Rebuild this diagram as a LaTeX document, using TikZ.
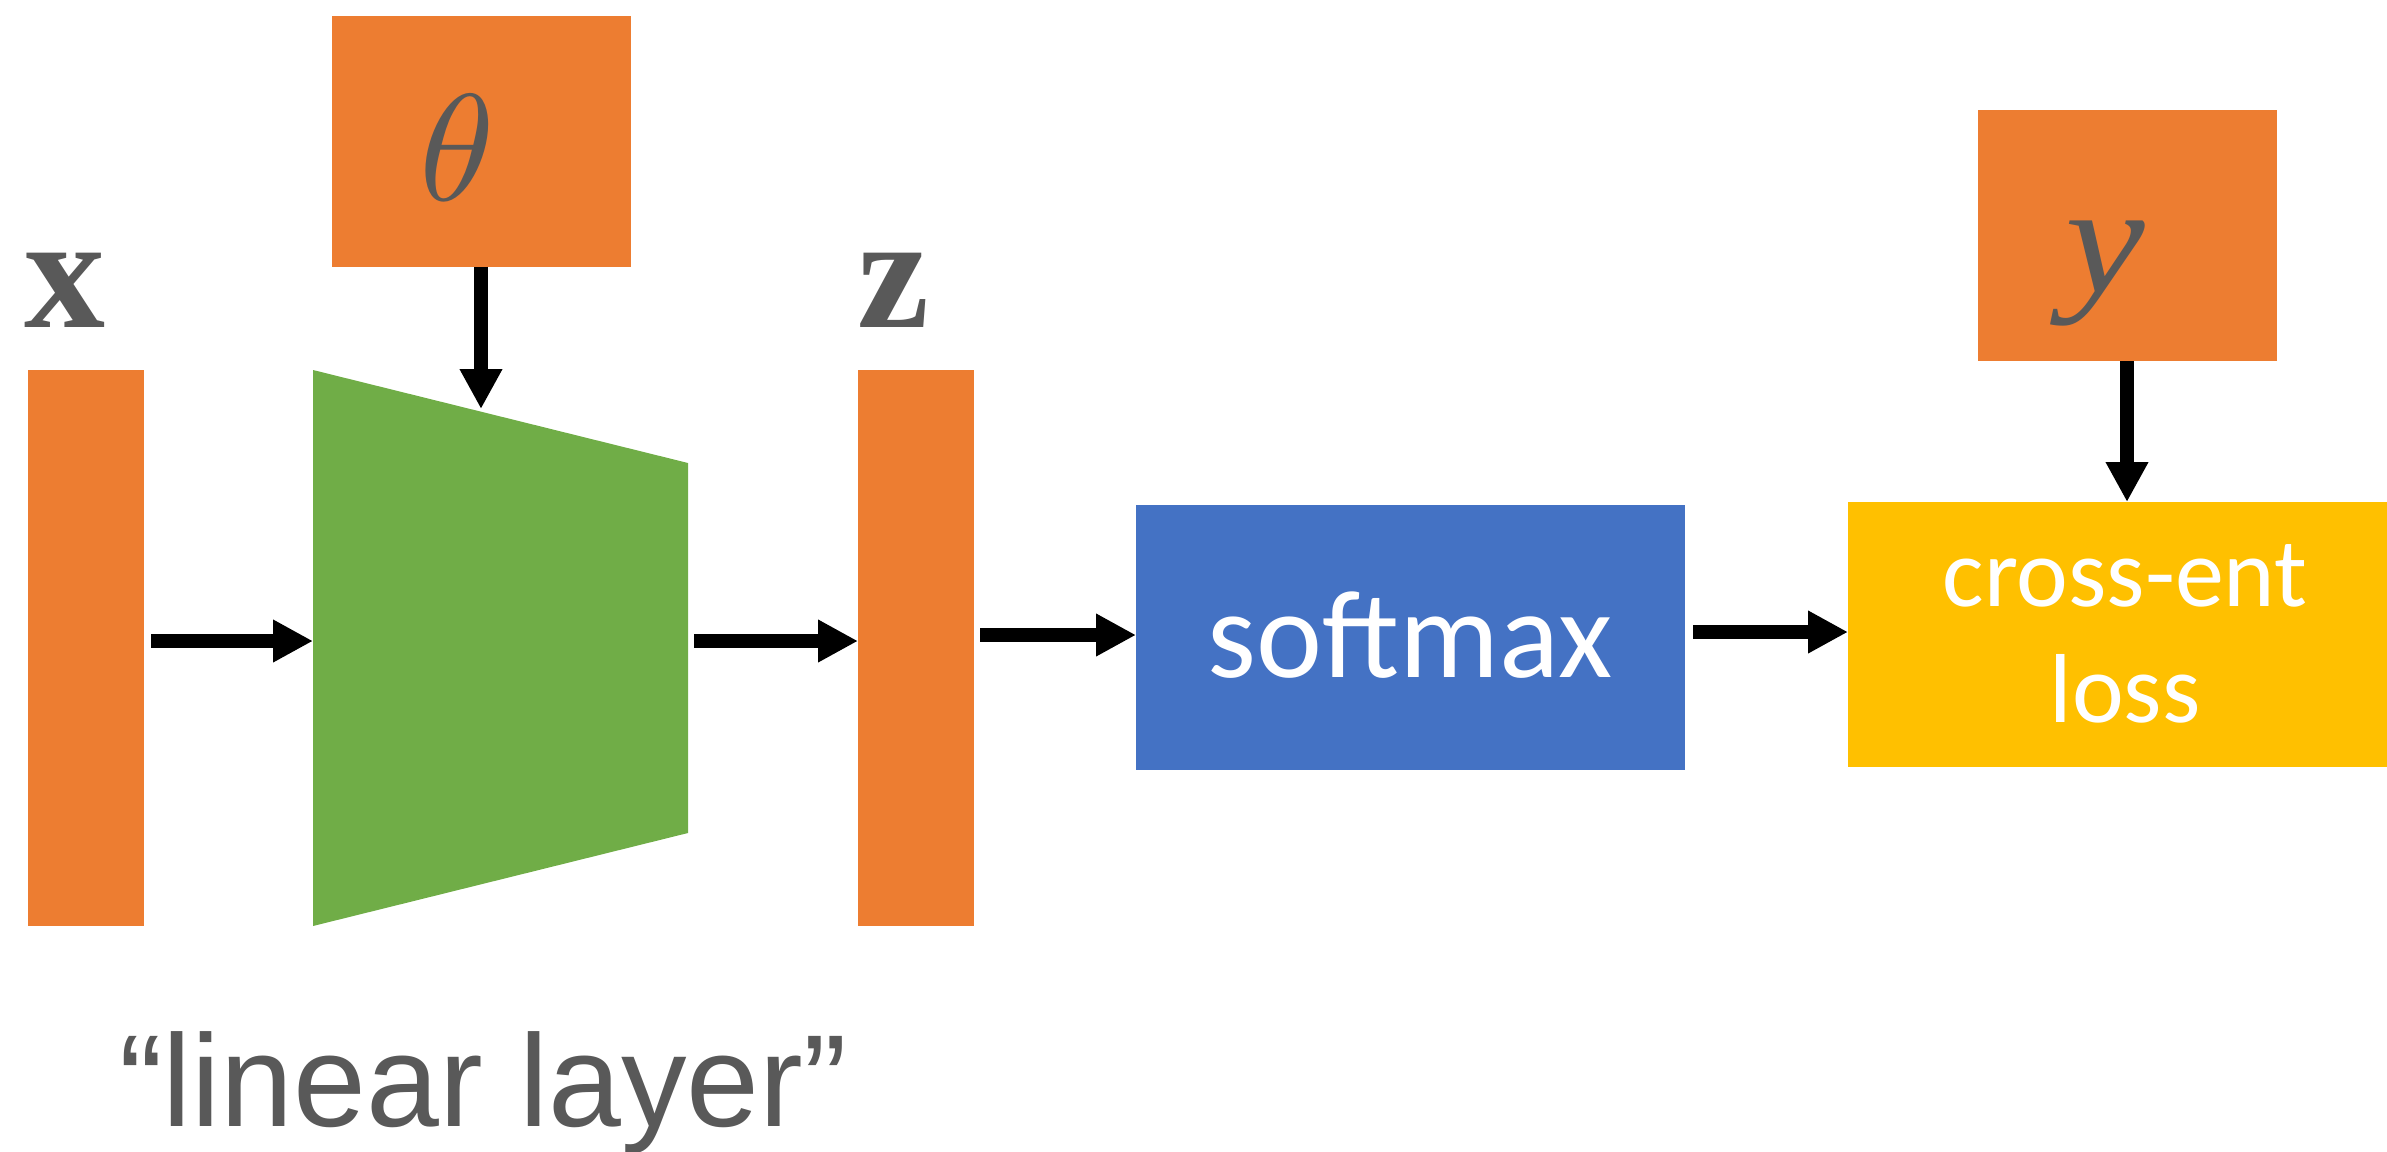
\documentclass[tikz,border=0pt]{standalone}
\usepackage{fontspec}
\newfontfamily\calibfont{Carlito}
\newfontfamily\arialfont{Liberation Sans}
\newfontfamily\timesfont{Liberation Serif}
\usetikzlibrary{arrows.meta,calc}
\definecolor{boxorange}{HTML}{ED7D31}
\definecolor{laygreen}{HTML}{70AD47}
\definecolor{softblue}{HTML}{4472C4}
\definecolor{lossgold}{HTML}{FFC000}
\definecolor{labgray}{HTML}{595959}

\begin{document}
\begin{tikzpicture}[x=1pt,y=-1pt,
  plain/.style={inner sep=0pt, outer sep=0pt},
  vec/.style={plain, fill=boxorange, minimum width=116pt, minimum height=556pt},
  param/.style={plain, fill=boxorange, minimum width=299pt, minimum height=251pt},
  op/.style={plain, minimum width=549pt, minimum height=265pt},
  arr/.style={line width=13.5pt, -{Triangle[width=40pt,length=40pt]}},
  sym/.style={plain, text=labgray, anchor=base},
  boxtext/.style={plain, text=white, anchor=base}]
\useasboundingbox (0,0) rectangle (2387,1151);

% input and output vectors
\node[vec] (xbar) at (86,648) {};
\node[vec] (zbar) at (916,648) {};

% linear layer as a trapezoid inside an invisible frame
\node[plain, minimum width=375pt, minimum height=556pt] (lin) at (500.5,648) {};
\fill[laygreen] (lin.north west) -- ($(lin.north east)+(0,93)$)
  -- ($(lin.south east)+(0,-93)$) -- (lin.south west) -- cycle;

% parameter and target boxes
\node[param] (theta) at (481,141) {};
\node[param] (ybox) at (2127,235.5) {};

% softmax and loss blocks
\node[op, fill=softblue] (soft) at (1410.5,637.5) {};
\node[op, fill=lossgold, minimum width=539pt] (loss) at (2117.5,634.5) {};

% symbols
\node[sym, font={\timesfont\bfseries\fontsize{162}{162}\selectfont}] (xlab) at (65,327) {x};
\node[sym, font={\timesfont\bfseries\fontsize{162}{162}\selectfont}] (zlab) at (893,327) {z};
\node[sym, scale=15.2] (thlab) at (457,200) {$\theta$};
\node[sym, xscale=1.15, font={\timesfont\itshape\fontsize{156}{156}\selectfont}] (ylab) at (2105,292) {y};

% block captions
\node[boxtext, font={\calibfont\fontsize{125}{125}\selectfont}] (softlab) at (1410,677) {softmax};
\node[boxtext, font={\calibfont\fontsize{98}{98}\selectfont}] (losslabA) at (2125,606) {cross-ent};
\node[boxtext, font={\calibfont\fontsize{98}{98}\selectfont}] (losslabB) at (2125,722) {loss};

\node[sym, font={\arialfont\fontsize{131}{131}\selectfont}] (caption) at (483,1126) {“linear layer”};

% connectors
\coordinate (thtip) at (481,409);
\draw[arr] (theta.south) -- (thtip);
\draw[arr] (ybox.south) -- (ybox.south |- loss.north);
\draw[arr] ($(xbar.east)+(7,-7)$) -- ($(lin.west)+(0,-7)$);
\draw[arr] ($(lin.east)+(6,-7)$) -- ($(zbar.west)+(0,-7)$);
\draw[arr] ($(zbar.east |- soft.west)+(6,-2.5)$) -- ($(soft.west)+(0,-2.5)$);
\draw[arr] ($(soft.east)+(8,-5.5)$) -- ($(loss.west)+(0,-2.5)$);
\end{tikzpicture}
\end{document}
